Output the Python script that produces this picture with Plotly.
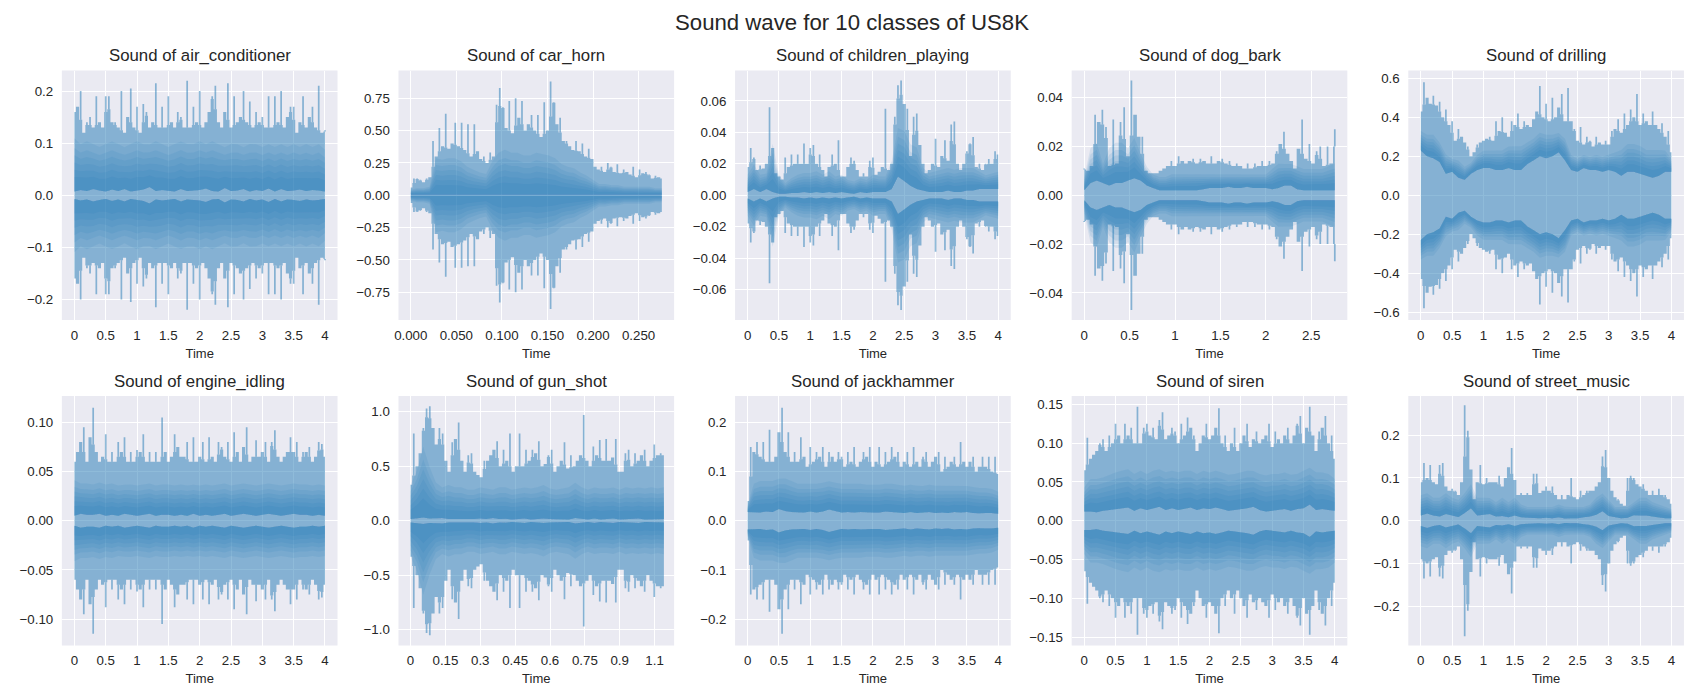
import numpy as np
import plotly.graph_objects as go

# ---------- panel names, durations, axes ----------
classes = ["air_conditioner", "car_horn", "children_playing", "dog_bark", "drilling",
           "engine_idling", "gun_shot", "jackhammer", "siren", "street_music"]
durations = [4.0, 0.2755, 4.0, 2.76, 4.0, 4.0, 1.09, 4.0, 4.0, 4.0]
xlims = [(-0.2, 4.2), (-0.0135, 0.289), (-0.2, 4.2), (-0.138, 2.898), (-0.2, 4.2),
         (-0.2, 4.2), (-0.052, 1.134), (-0.2, 4.2), (-0.2, 4.2), (-0.2, 4.2)]
ylims = [0.2395, 0.965, 0.0794, 0.0511, 0.64, 0.1269, 1.144, 0.2537, 0.1608, 0.2914]

sec_ticks = [0, 0.5, 1, 1.5, 2, 2.5, 3, 3.5, 4]
sec_labels = ["0", "0.5", "1", "1.5", "2", "2.5", "3", "3.5", "4"]
xticks = [sec_ticks, [0, 0.05, 0.1, 0.15, 0.2, 0.25], sec_ticks, [0, 0.5, 1, 1.5, 2, 2.5], sec_ticks,
          sec_ticks, [0, 0.15, 0.3, 0.45, 0.6, 0.75, 0.9, 1.05], sec_ticks, sec_ticks, sec_ticks]
xlabels = [sec_labels, ["0.000", "0.050", "0.100", "0.150", "0.200", "0.250"], sec_labels,
           ["0", "0.5", "1", "1.5", "2", "2.5"], sec_labels, sec_labels,
           ["0", "0.15", "0.3", "0.45", "0.6", "0.75", "0.9", "1.1"], sec_labels, sec_labels, sec_labels]
yticks = [[-0.2, -0.1, 0, 0.1, 0.2], [-0.75, -0.5, -0.25, 0, 0.25, 0.5, 0.75],
          [-0.06, -0.04, -0.02, 0, 0.02, 0.04, 0.06], [-0.04, -0.02, 0, 0.02, 0.04],
          [-0.6, -0.4, -0.2, 0, 0.2, 0.4, 0.6], [-0.1, -0.05, 0, 0.05, 0.1], [-1, -0.5, 0, 0.5, 1],
          [-0.2, -0.1, 0, 0.1, 0.2], [-0.15, -0.1, -0.05, 0, 0.05, 0.1, 0.15], [-0.2, -0.1, 0, 0.1, 0.2]]
yformats = [".1f", ".2f", ".2f", ".2f", ".1f", ".2f", ".1f", ".1f", ".2f", ".1f"]

# ---------- outer envelope of each waveform ----------
air_conditioner_outer = [.16,.17,.20,.12,.14,.15,.13,.19,.14,.13,.19,.19,.14,.14,.13,.20,.12,.15,.205,.13,.17,.12,.175,.16,.13,.14,.215,.13,.17,.13,.19,.14,.13,.16,.15,.13,.22,.13,.17,.14,.20,.13,.14,.16,.19,.21,.14,.13,.16,.215,.13,.19,.14,.15,.20,.14,.18,.13,.16,.14,.15,.13,.19,.13,.19,.14,.20,.13,.15,.17,.17,.12,.14,.19,.13,.15,.17,.13,.21,.12,.125]
car_horn_outer = [.06,.13,.13,.12,.10,.13,.14,.42,.30,.52,.38,.63,.36,.40,.56,.38,.56,.35,.55,.30,.55,.34,.28,.30,.25,.33,.30,.70,.83,.68,.52,.73,.48,.75,.60,.73,.50,.55,.62,.50,.62,.45,.72,.50,.88,.72,.55,.60,.42,.42,.38,.35,.42,.34,.40,.30,.36,.28,.22,.20,.22,.18,.25,.22,.18,.24,.17,.20,.18,.16,.22,.14,.20,.17,.18,.16,.13,.15,.14,.13]
children_playing_outer = [.018,.030,.024,.016,.019,.017,.020,.056,.030,.014,.012,.010,.024,.018,.026,.020,.026,.020,.033,.020,.030,.032,.020,.026,.016,.012,.018,.026,.020,.035,.012,.012,.018,.024,.022,.016,.012,.014,.012,.022,.024,.013,.015,.018,.055,.016,.020,.050,.070,.073,.058,.055,.025,.050,.052,.032,.020,.014,.016,.020,.036,.018,.025,.035,.022,.045,.047,.020,.016,.020,.028,.033,.037,.018,.020,.016,.020,.023,.020,.028,.026]
dog_bark_outer = [.011,.010,.012,.033,.030,.035,.028,.012,.031,.013,.030,.036,.016,.047,.033,.024,.024,.010,.009,.009,.009,.010,.011,.012,.014,.012,.016,.014,.013,.014,.015,.013,.015,.014,.013,.016,.013,.014,.015,.013,.014,.012,.013,.012,.011,.013,.011,.013,.012,.014,.012,.014,.013,.018,.021,.026,.017,.014,.011,.019,.031,.015,.021,.013,.018,.020,.012,.020,.013,.027]
drilling_outer = [.43,.58,.50,.47,.51,.46,.48,.40,.44,.36,.38,.28,.34,.30,.27,.25,.20,.22,.26,.27,.28,.29,.30,.28,.38,.33,.40,.32,.30,.38,.36,.42,.34,.38,.36,.35,.39,.43,.56,.40,.47,.38,.50,.40,.45,.52,.38,.55,.38,.34,.28,.35,.26,.30,.28,.25,.30,.27,.26,.28,.26,.33,.34,.39,.32,.42,.36,.44,.40,.52,.36,.42,.38,.36,.43,.36,.34,.37,.30,.33,.22]
engine_idling_outer = [.06,.07,.08,.095,.06,.085,.115,.07,.06,.065,.088,.06,.07,.06,.08,.07,.085,.06,.07,.06,.072,.07,.088,.06,.07,.06,.07,.06,.105,.07,.06,.065,.088,.075,.065,.065,.08,.06,.085,.06,.065,.08,.06,.085,.065,.06,.08,.075,.065,.08,.06,.09,.07,.06,.075,.095,.06,.065,.082,.065,.07,.08,.06,.08,.092,.065,.06,.065,.07,.085,.07,.08,.06,.07,.07,.075,.06,.065,.08,.078,.065]
gun_shot_outer = [.33,.80,.50,.62,.85,1.03,1.05,.85,.70,.85,.80,.55,.45,.72,.75,.90,.55,.45,.60,.62,.45,.42,.40,.55,.55,.60,.65,.73,.50,.65,.55,.80,.45,.50,.80,.50,.65,.55,.65,.62,.73,.50,.52,.60,.65,.45,.50,.55,.72,.48,.60,.50,.55,.60,.97,.55,.50,.68,.60,.74,.55,.75,.55,.58,.75,.45,.45,.62,.65,.50,.62,.55,.60,.65,.50,.55,.70,.60,.62,.60]
jackhammer_outer = [.04,.15,.14,.16,.13,.16,.12,.185,.12,.13,.18,.23,.14,.18,.12,.14,.12,.17,.13,.11,.15,.12,.14,.13,.15,.11,.14,.13,.12,.14,.13,.11,.14,.12,.15,.11,.12,.14,.13,.15,.11,.12,.15,.11,.14,.12,.15,.13,.14,.11,.12,.14,.11,.15,.12,.11,.13,.14,.11,.12,.13,.14,.10,.13,.11,.12,.13,.11,.16,.12,.11,.12,.13,.10,.11,.13,.11,.13,.10,.13,.095]
siren_outer = [.065,.107,.08,.085,.09,.10,.105,.09,.11,.10,.125,.11,.10,.125,.11,.12,.10,.147,.10,.12,.125,.11,.12,.105,.13,.14,.105,.11,.12,.115,.10,.125,.11,.133,.12,.11,.09,.10,.11,.125,.105,.11,.12,.145,.10,.11,.09,.10,.12,.09,.10,.11,.125,.095,.105,.115,.10,.105,.11,.125,.095,.115,.105,.10,.11,.12,.10,.11,.125,.135,.10,.12,.147,.11,.09,.115,.12,.135,.10,.11,.08]
street_music_outer = [.09,.135,.10,.13,.09,.085,.13,.135,.08,.07,.075,.07,.06,.09,.27,.21,.12,.05,.09,.13,.085,.10,.09,.09,.09,.105,.08,.10,.125,.17,.095,.06,.065,.06,.065,.06,.11,.11,.065,.07,.08,.07,.08,.06,.05,.06,.05,.06,.10,.055,.05,.07,.06,.07,.07,.07,.08,.09,.15,.165,.10,.07,.055,.05,.04,.035,.10,.105,.10,.085,.08,.085,.07,.06,.07,.06,.075,.06,.06,.05,.04]

# ---------- light core half-height ----------
air_conditioner_inner = [.007,.01,.008,.012,.009,.007,.011,.008,.012,.007,.009,.011,.016,.008,.01,.009,.007,.012,.008,.009,.01,.013,.008,.007,.014,.008,.009,.012,.007,.01,.008,.013,.007,.012,.008,.009,.011,.008,.01,.009,.007]
car_horn_inner = [.004,.005,.003,.003,.004,.003,.003,.003,.004,.003,.003,.004,.003,.003,.003,.004,.003,.003,.003,.003,.003,.004,.003,.003,.003,.003,.004,.003,.003,.003,.003,.004,.003,.003,.003,.003,.003,.003,.003,.003,.003]
children_playing_inner = [.002,.004,.002,.004,.002,.001,.001,.0015,.0015,.002,.0015,.002,.0015,.002,.0015,.002,.0015,.001,.002,.0015,.002,.002,.002,.004,.012,.009,.006,.004,.003,.002,.002,.002,.003,.002,.002,.003,.003,.004,.004,.004,.004]
dog_bark_inner = [.002,.005,.006,.005,.004,.005,.005,.006,.007,.006,.004,.003,.002,.002,.002,.002,.002,.002,.002,.0025,.003,.003,.003,.0035,.003,.003,.0035,.003,.003,.003,.0025,.003,.004,.004,.0025,.002,.002,.002,.002,.002,.002]
drilling_inner = [.23,.20,.19,.17,.11,.12,.09,.08,.11,.13,.14,.14,.13,.13,.14,.13,.13,.16,.18,.20,.19,.20,.22,.18,.13,.12,.14,.13,.13,.12,.13,.12,.10,.12,.12,.11,.10,.09,.10,.12,.12]
engine_idling_inner = [.005,.007,.006,.006,.007,.005,.006,.005,.007,.006,.005,.006,.007,.005,.006,.006,.005,.006,.005,.007,.005,.006,.005,.006,.007,.005,.006,.007,.006,.005,.006,.007,.006,.005,.006,.007,.006,.006,.005,.006,.005]
gun_shot_inner = [.015,.025,.03,.02,.02,.025,.015,.015,.015,.012,.015,.02,.015,.025,.015,.018,.012,.015,.02,.012,.015,.02,.015,.012,.015,.012,.025,.015,.012,.02,.012,.015,.02,.012,.015,.012,.02,.012,.015,.012,.015]
jackhammer_inner = [.018,.018,.017,.019,.018,.024,.020,.018,.018,.017,.019,.017,.019,.023,.020,.017,.018,.017,.018,.017,.017,.017,.019,.018,.017,.016,.018,.016,.017,.018,.016,.017,.016,.018,.017,.018,.016,.015,.016,.016,.014]
siren_inner = [.012,.012,.011,.013,.014,.015,.016,.017,.013,.016,.014,.016,.018,.014,.016,.014,.016,.017,.014,.016,.015,.017,.015,.013,.014,.015,.016,.018,.014,.012,.013,.014,.015,.013,.015,.016,.021,.014,.015,.014,.013]
street_music_inner = [.012,.017,.012,.010,.016,.012,.009,.018,.029,.012,.014,.016,.010,.011,.008,.012,.008,.007,.007,.006,.007,.006,.008,.005,.006,.006,.008,.010,.014,.022,.011,.008,.006,.007,.013,.012,.012,.010,.008,.006,.006]

# ---------- edge of the darker band, half-height ----------
air_conditioner_band = [.10,.09,.095,.09,.085,.09,.095,.09,.085,.09,.095,.09,.09,.095,.09,.085,.09,.095,.09,.09,.095,.09,.095,.09,.085,.09,.09,.085,.09,.09,.085,.09,.085,.09,.085,.09,.085,.09,.085,.09,.08]
car_horn_band = [.04,.05,.05,.06,.26,.25,.26,.26,.24,.20,.18,.16,.15,.24,.30,.32,.30,.30,.28,.28,.30,.29,.28,.26,.22,.20,.19,.16,.14,.11,.08,.08,.07,.07,.06,.06,.06,.06,.06,.05,.05]
children_playing_band = [.012,.018,.012,.013,.030,.012,.007,.010,.012,.013,.013,.014,.012,.014,.011,.012,.009,.008,.010,.009,.012,.011,.011,.020,.040,.038,.030,.028,.016,.013,.014,.015,.016,.015,.016,.016,.016,.014,.012,.013,.014]
dog_bark_band = [.007,.018,.020,.012,.018,.020,.020,.018,.022,.016,.011,.008,.007,.007,.008,.008,.008,.008,.008,.008,.008,.008,.008,.008,.008,.008,.008,.008,.008,.008,.010,.012,.012,.012,.011,.010,.010,.010,.010,.011,.012]
drilling_band = [.32,.30,.30,.26,.20,.18,.17,.14,.16,.20,.22,.22,.22,.22,.24,.24,.24,.26,.28,.31,.30,.30,.31,.28,.20,.18,.20,.19,.20,.19,.20,.21,.22,.25,.25,.24,.22,.22,.22,.22,.18]
engine_idling_band = [.038,.035,.035,.034,.036,.034,.035,.033,.034,.034,.033,.034,.035,.033,.034,.034,.033,.034,.033,.034,.033,.034,.033,.034,.035,.033,.034,.035,.034,.033,.034,.035,.034,.033,.034,.035,.034,.034,.033,.034,.033]
gun_shot_band = [.30,.42,.62,.45,.32,.28,.30,.28,.28,.26,.26,.28,.27,.26,.28,.28,.26,.27,.28,.27,.28,.30,.27,.26,.27,.28,.32,.28,.26,.28,.27,.27,.28,.26,.28,.27,.28,.27,.28,.27,.28]
jackhammer_band = [.03,.07,.075,.075,.075,.08,.08,.075,.07,.07,.07,.07,.072,.075,.072,.07,.07,.07,.07,.068,.068,.068,.07,.07,.068,.066,.068,.066,.066,.068,.066,.066,.065,.066,.066,.066,.064,.062,.062,.06,.055]
siren_band = [.04,.05,.05,.052,.055,.058,.06,.062,.056,.06,.056,.06,.062,.058,.06,.058,.06,.06,.056,.06,.058,.06,.058,.055,.056,.058,.06,.06,.056,.054,.056,.056,.058,.055,.056,.06,.064,.058,.058,.056,.05]
street_music_band = [.055,.06,.05,.05,.06,.05,.045,.06,.08,.05,.05,.05,.04,.05,.04,.05,.035,.03,.03,.03,.03,.03,.035,.03,.03,.03,.03,.035,.05,.06,.045,.03,.03,.03,.04,.05,.05,.04,.035,.03,.025]

outers = [air_conditioner_outer, car_horn_outer, children_playing_outer, dog_bark_outer, drilling_outer,
          engine_idling_outer, gun_shot_outer, jackhammer_outer, siren_outer, street_music_outer]
inners = [air_conditioner_inner, car_horn_inner, children_playing_inner, dog_bark_inner, drilling_inner,
          engine_idling_inner, gun_shot_inner, jackhammer_inner, siren_inner, street_music_inner]
bands = [air_conditioner_band, car_horn_band, children_playing_band, dog_bark_band, drilling_band,
         engine_idling_band, gun_shot_band, jackhammer_band, siren_band, street_music_band]

# ---------- layout constants (pixels in a 1700x700 page) ----------
W, H = 1700, 700
AX_W, AX_H = 276.3, 249.5
LEFTS = [58, 395.4, 732.8, 1070.2, 1407.6]
TOPS = [70.5, 396]
TEXT = "#262626"
FONT = "Liberation Sans, Arial, sans-serif"
LAYER = "rgba(31,119,180,0.5)"
SHADE = "rgba(31,119,180,0.11)"

fig = go.Figure()
annotations = [dict(text="Sound wave for 10 classes of US8K", x=0.5, y=1 - 22 / H, xref="paper", yref="paper",
                    showarrow=False, xanchor="center", yanchor="middle", font=dict(size=22.2, color=TEXT, family=FONT))]
layout = {}

for i, name in enumerate(classes):
    r, c = divmod(i, 5)
    sfx = "" if i == 0 else str(i + 1)
    xa, ya = "x" + sfx, "y" + sfx
    dur = durations[i]
    outer = np.array(outers[i])
    inner = np.array(inners[i])
    band = np.array(bands[i])
    tx = np.linspace(0, dur, len(outer))
    tb = np.linspace(0, dur, len(inner))

    # plateau under the spikes: each sample capped by its neighbours' level
    neighbours = 0.5 * (np.r_[outer[0], outer[:-1]] + np.r_[outer[1:], outer[-1]])
    plateau = np.minimum(outer, neighbours)

    common = dict(mode="lines", xaxis=xa, yaxis=ya, showlegend=False, hoverinfo="skip")
    # whole envelope, one translucent layer
    fig.add_trace(go.Scatter(x=tx, y=-plateau, line=dict(width=0, shape="hvh"), **common))
    fig.add_trace(go.Scatter(x=tx, y=plateau, fill="tonexty", fillcolor=LAYER,
                             line=dict(width=0, shape="hvh"), **common))
    # narrow spikes rising from the plateau to each sampled peak
    for sign in (1, -1):
        sx, sy = [], []
        for t, p, o in zip(tx, plateau, outer):
            if o > p:
                sx += [t, t, None]
                sy += [sign * p, sign * o, None]
        fig.add_trace(go.Scatter(x=sx, y=sy, line=dict(width=1.7, color=LAYER), **common))
    # darker band on both sides of the core, fading outward
    for frac in (0.3, 0.45, 0.6, 0.75, 0.9, 1.1):
        edge = inner + (band - inner) * frac
        for sign in (1, -1):
            fig.add_trace(go.Scatter(x=tb, y=sign * inner, line=dict(width=0), **common))
            fig.add_trace(go.Scatter(x=tb, y=sign * edge, fill="tonexty", fillcolor=SHADE,
                                     line=dict(width=0), **common))

    left = LEFTS[c]
    top = TOPS[r]
    layout["xaxis" + sfx] = dict(
        domain=[left / W, (left + AX_W) / W], anchor=ya, range=list(xlims[i]),
        tickmode="array", tickvals=xticks[i], ticktext=xlabels[i],
        showgrid=True, gridcolor="white", gridwidth=1.2, zeroline=False, showline=False,
        ticks="outside", ticklen=3, tickcolor="rgba(0,0,0,0)",
        tickfont=dict(size=13.3, color=TEXT, family=FONT),
        title=dict(text="Time", standoff=6, font=dict(size=13, color=TEXT, family=FONT)))
    layout["yaxis" + sfx] = dict(
        domain=[1 - (top + AX_H) / H, 1 - top / H], anchor=xa, range=[-ylims[i], ylims[i]],
        tickmode="array", tickvals=yticks[i], tickformat=yformats[i],
        showgrid=True, gridcolor="white", gridwidth=1.2, zeroline=False, showline=False,
        ticks="outside", ticklen=5, tickcolor="rgba(0,0,0,0)",
        tickfont=dict(size=13.3, color=TEXT, family=FONT))
    annotations.append(dict(text="Sound of " + name, x=(left + AX_W / 2) / W, y=1 - (top - 15) / H,
                            xref="paper", yref="paper", showarrow=False, xanchor="center", yanchor="middle",
                            font=dict(size=16.8, color=TEXT, family=FONT)))

fig.update_layout(width=W, height=H, margin=dict(l=0, r=0, t=0, b=0), autosize=False,
                  paper_bgcolor="white", plot_bgcolor="#EAEAF2", annotations=annotations,
                  showlegend=False, **layout)

fig.write_html("out.html", config={"displayModeBar": False},
               post_script="document.body.style.margin='0';document.body.style.overflow='hidden';")
